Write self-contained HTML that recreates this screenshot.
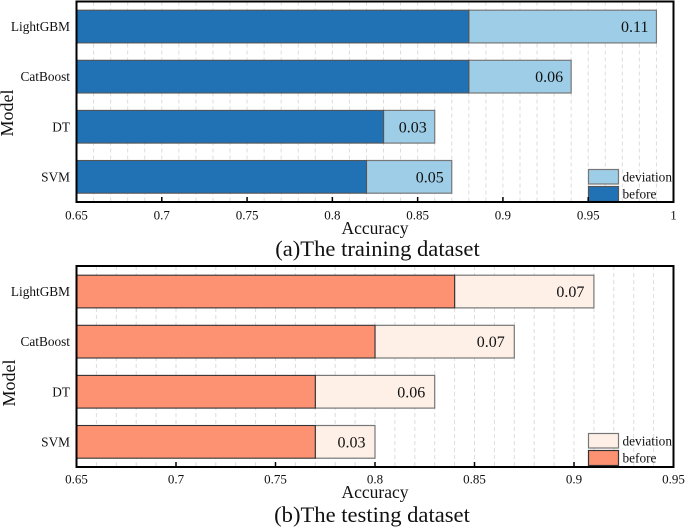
<!DOCTYPE html>
<html>
<head>
<meta charset="utf-8">
<title>Model accuracy charts</title>
<style>
html,body{margin:0;padding:0;background:#fff;}
svg{display:block;}
text{font-family:"Liberation Serif","Times New Roman",serif;fill:#111;}
</style>
</head>
<body>
<svg id="chart" xmlns="http://www.w3.org/2000/svg" width="685" height="528" viewBox="0 0 685 528"></svg>
<script>
var categories = ['LightGBM', 'CatBoost', 'DT', 'SVM'];
var trainBefore = [0.88, 0.88, 0.83, 0.82];
var trainDeviation = [0.11, 0.06, 0.03, 0.05];
var testBefore = [0.84, 0.80, 0.77, 0.77];
var testDeviation = [0.07, 0.07, 0.06, 0.03];
var trainTicks = [0.65, 0.7, 0.75, 0.8, 0.85, 0.9, 0.95, 1];
var testTicks = [0.65, 0.7, 0.75, 0.8, 0.85, 0.9, 0.95];
var legendLabels = ['deviation', 'before'];

var svg = document.getElementById('chart');
var NS = 'http://www.w3.org/2000/svg';

function make(tag, attrs, parent) {
  var el = document.createElementNS(NS, tag);
  for (var k in attrs) { el.setAttribute(k, attrs[k]); }
  (parent || svg).appendChild(el);
  return el;
}

function drawPanel(cfg) {
  var g = make('g', {});
  
  

  var xMin = cfg.ticks[0];
  var xMax = cfg.ticks[cfg.ticks.length - 1];
  function x(v) { return cfg.left + (v - xMin) / (xMax - xMin) * (cfg.right - cfg.left); }
  function y(i) { return cfg.top + cfg.barOffset + i * cfg.barStep; }

  // minor dashed grid
  var steps = Math.round((xMax - xMin) * 100);
  for (var s = 1; s < steps; s++) {
    var gv = xMin + s * 0.01;
    var gl = make('line', {x1: x(gv), x2: x(gv), y1: cfg.top, y2: cfg.bottom, stroke: '#dcdcdc', 'stroke-width': 1, 'stroke-dasharray': '4 3'}, g);
    
    
  }

  // bars
  categories.forEach(function (cat, i) {
    var total = cfg.before[i] + cfg.deviation[i];
    var dev = make('rect', {x: x(cfg.before[i]), y: y(i), width: x(total) - x(cfg.before[i]), height: cfg.barH, fill: cfg.lightColor, stroke: '#777', 'stroke-width': 1.2}, g);
    
    

    var bef = make('rect', {x: x(xMin), y: y(i), width: x(cfg.before[i]) - x(xMin), height: cfg.barH, fill: cfg.darkColor, stroke: cfg.edge, 'stroke-width': 1.1}, g);
    
    

    var val = make('text', {x: x(total) - cfg.valueGap, y: y(i) + cfg.barH / 2 + 5.5, 'text-anchor': 'end', 'font-size': 16}, g);
    val.textContent = cfg.deviation[i].toFixed(2);
    
    

    var lab = make('text', {x: 70, y: y(i) + cfg.barH / 2 + 4.5, 'text-anchor': 'end', 'font-size': 13.3}, g);
    lab.textContent = cat;
    
    
  });

  // legend
  legendLabels.forEach(function (label, i) {
    var patchY = cfg.legendY + i * 17;
    var patch = make('rect', {x: 588.5, y: patchY, width: 30, height: i === 0 ? 14.5 : 15, fill: i === 0 ? cfg.lightColor : cfg.darkColor, stroke: i === 0 ? '#777' : cfg.edge, 'stroke-width': 1.2}, g);
    
    

    var lt = make('text', {x: 622.5, y: patchY + 12, 'font-size': 13.3}, g);
    lt.textContent = label;
    
    
  });

  // frame
  var frame = make('rect', {x: cfg.left, y: cfg.top, width: cfg.right - cfg.left, height: cfg.bottom - cfg.top, fill: 'none', stroke: '#000', 'stroke-width': 2}, g);
  
  

  // ticks
  cfg.ticks.forEach(function (t, i) {
    if (i > 0 && i < cfg.ticks.length - 1) {
      var tk = make('line', {x1: x(t), x2: x(t), y1: cfg.bottom, y2: cfg.bottom - 5, stroke: '#000', 'stroke-width': 1.5}, g);
      
      
    }
    var tl = make('text', {x: x(t), y: cfg.bottom + cfg.tickDy, 'text-anchor': 'middle', 'font-size': 13}, g);
    tl.textContent = String(t);
    
    
  });

  var xt = make('text', {x: 375, y: cfg.xLabelY, 'text-anchor': 'middle', 'font-size': 17.5}, g);
  xt.textContent = 'Accuracy';
  
  

  var yt = make('text', {x: 0, y: 0, 'text-anchor': 'middle', 'font-size': 18, transform: 'translate(' + cfg.yLabelX + ',' + cfg.yLabelY + ') rotate(-90)'}, g);
  yt.textContent = 'Model';
  
  

  var title = make('text', {x: cfg.titleX, y: cfg.titleY, 'text-anchor': 'middle', 'font-size': 22.6}, g);
  title.textContent = cfg.title;
  
  
}

drawPanel({
  name: 'training', title: '(a)The training dataset',
  before: trainBefore, deviation: trainDeviation, ticks: trainTicks,
  left: 76.5, right: 673.5, top: 1.5, bottom: 202,
  barOffset: 8.7, barStep: 50.1, barH: 32.7, valueGap: 8,
  darkColor: '#2171b5', lightColor: '#9ecde7', edge: '#555',
  legendY: 169.5, tickDy: 17.5, xLabelY: 234, yLabelX: 13, yLabelY: 113,
  titleX: 377.5, titleY: 256
});

drawPanel({
  name: 'testing', title: '(b)The testing dataset',
  before: testBefore, deviation: testDeviation, ticks: testTicks,
  left: 76.5, right: 673.5, top: 266, bottom: 467,
  barOffset: 9.2, barStep: 50.1, barH: 32.7, valueGap: 9.5,
  darkColor: '#fd9272', lightColor: '#fef0e6', edge: '#333',
  legendY: 433.5, tickDy: 16.5, xLabelY: 498, yLabelX: 15, yLabelY: 383,
  titleX: 372, titleY: 522
});
</script>
</body>
</html>
